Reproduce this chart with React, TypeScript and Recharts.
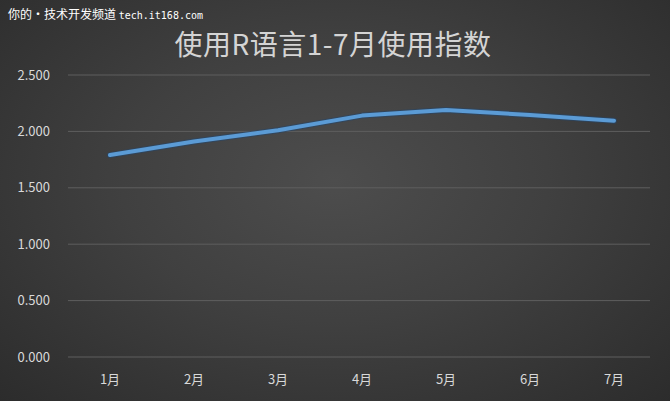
import React from 'react';
import { LineChart, Line, XAxis, YAxis, CartesianGrid } from 'recharts';

const months = ['1月', '2月', '3月', '4月', '5月', '6月', '7月'];
const usageIndex = [1.79, 1.91, 2.01, 2.14, 2.19, 2.145, 2.095];
const yTicks = [0, 0.5, 1, 1.5, 2, 2.5];

const data = months.map((m, i) => ({ month: m, value: usageIndex[i] }));

export default function App() {
  return (
    <div
      style={{
        position: 'relative',
        width: 670,
        height: 401,
        overflow: 'hidden',
        background: 'radial-gradient(ellipse at 50% 45%, #4d4d4d 0%, #404040 45%, #2c2c2c 100%)',
        fontFamily: '"Noto Sans CJK SC", "Noto Sans", sans-serif',
      }}
    >
      <style>{'body{margin:0}'}</style>
      <div
        style={{
          position: 'absolute',
          left: 8,
          top: 7,
          fontSize: 12,
          color: '#ffffff',
          whiteSpace: 'nowrap',
          lineHeight: '14px',
          zIndex: 2,
        }}
      >
        你的•技术开发频道 <span style={{ fontFamily: '"DejaVu Sans Mono", monospace', fontSize: 10 }}>tech.it168.com</span>
      </div>
      <div
        style={{
          position: 'absolute',
          left: 0,
          width: 670,
          top: 23,
          textAlign: 'center',
          fontSize: 28,
          lineHeight: '40px',
          color: '#d4d4d4',
          letterSpacing: 0.5,
          paddingRight: 4,
          boxSizing: 'border-box',
          zIndex: 1,
        }}
      >
        使用R语言1-7月使用指数
      </div>
      <LineChart
        width={670}
        height={401}
        data={data}
        margin={{ top: 75, right: 20, bottom: 14, left: 0 }}
        style={{ position: 'absolute', left: 0, top: 0 }}
      >
        <CartesianGrid vertical={false} stroke="#5e5e5e" strokeWidth={1} />
        <XAxis
          dataKey="month"
          height={30}
          padding={{ left: 42, right: 36 }}
          axisLine={false}
          tickLine={false}
          tickMargin={12}
          tick={{ fill: '#d9d9d9', fontSize: 13 }}
        />
        <YAxis
          width={68}
          domain={[0, 2.5]}
          ticks={yTicks}
          axisLine={false}
          tickLine={false}
          tickMargin={12}
          tickFormatter={(v: number) => v.toFixed(3)}
          tick={{ fill: '#d9d9d9', fontSize: 13 }}
        />
        <Line
          type="linear"
          dataKey="value"
          stroke="#24466b"
          strokeWidth={6}
          strokeLinecap="round"
          strokeLinejoin="round"
          strokeOpacity={0.6}
          dot={false}
          activeDot={false}
          isAnimationActive={false}
        />
        <Line
          type="linear"
          dataKey="value"
          stroke="#5b9bd5"
          strokeWidth={4}
          strokeLinecap="round"
          strokeLinejoin="round"
          dot={false}
          activeDot={false}
          isAnimationActive={false}
        />
      </LineChart>
    </div>
  );
}
